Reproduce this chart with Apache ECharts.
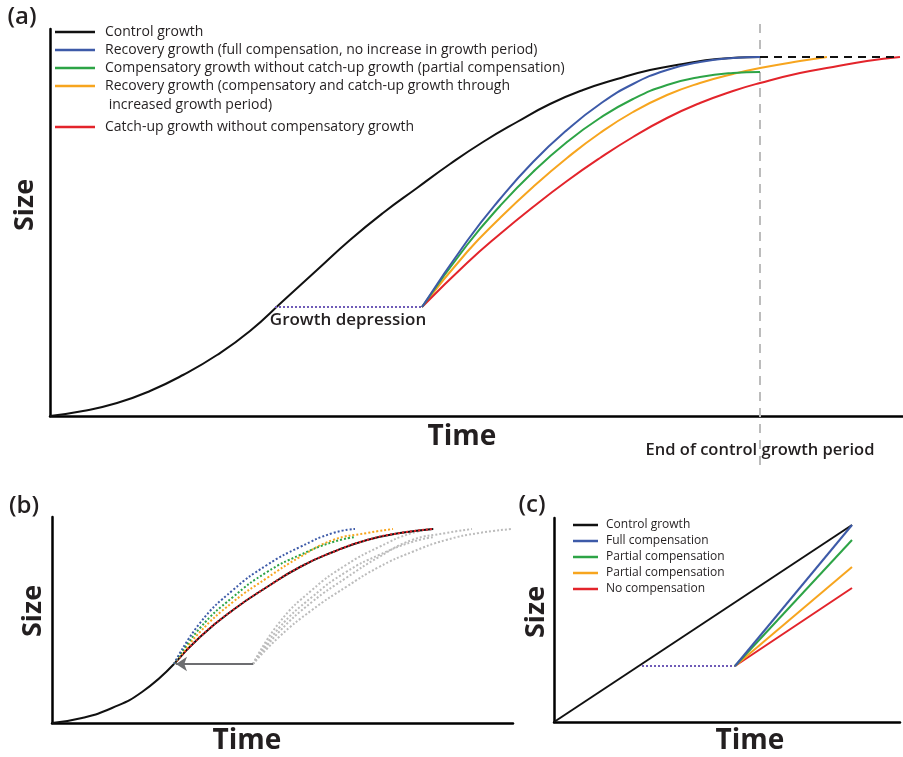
<!DOCTYPE html>
<html>
<head>
<meta charset="utf-8">
<script src="https://cdn.jsdelivr.net/npm/echarts@6/dist/echarts.min.js"></script>
<style>
html,body{margin:0;padding:0;background:#fff;}
#chart{width:903px;height:757px;}
</style>
</head>
<body>
<div id="chart"></div>
<script>
// ---------- Panel (a): size vs time (arbitrary units) ----------
const aNames = [
  'Control growth',
  'Recovery growth (full compensation, no increase in growth period)',
  'Compensatory growth without catch-up growth (partial compensation)',
  'Recovery growth (compensatory and catch-up growth through increased growth period)',
  'Catch-up growth without compensatory growth'
];
const aOrangeLine1 = 'Recovery growth (compensatory and catch-up growth through';
const aOrangeLine2 = ' increased growth period)';
const aControl = [[0,0],[33,5],[67,13],[100,25],[133,41],[167,61],[200,85],[233,115],[267,146],[300,176],[333,203],[367,228],[400,252],[433,274],[467,294],[500,312],[533,326],[567,337],[600,346],[633,352],[667,357],[710,359]];
const aBlue   = [[372,109],[417,175],[450,217],[483,254],[517,286],[550,312],[583,332],[617,346],[650,354],[683,358],[710,359]];
const aGreen  = [[372,109],[417,171],[450,210],[483,244],[517,274],[550,298],[583,317],[617,331],[650,339],[683,343],[710,344]];
const aOrange = [[372,109],[417,164],[450,198],[483,229],[517,258],[550,283],[583,304],[617,321],[650,333],[683,342],[710,348],[750,355],[777,359]];
const aRed    = [[372,109],[417,153],[450,182],[483,209],[517,235],[550,258],[583,279],[617,298],[650,313],[683,325],[710,333],[750,343],[783,349],[817,355],[850,359]];
const aDepression = [[225,109],[372,109]];
const aPlateau = [[710,359],[850,359]];
const aEndOfPeriod = [[710,-49],[710,396]];

// ---------- Panel (b) ----------
const bControl  = [[0,0],[30,5],[60,15],[90,31],[122,59]];
const bRedBlack = [[122,59],[148,86],[181,113],[215,136],[248,156],[281,171],[315,183],[348,190],[381,194]];
const bBlue     = [[122,59],[148,100],[181,133],[215,158],[248,176],[281,190],[303,194]];
const bGreen    = [[122,59],[148,95],[181,126],[215,151],[248,168],[281,181],[303,186]];
const bOrange   = [[122,59],[148,91],[181,121],[215,145],[248,166],[281,183],[315,190],[341,194]];
const bGrayBlue   = [[201,59],[227,100],[260,133],[294,158],[327,176],[360,190],[382,194]];
const bGrayGreen  = [[201,59],[227,95],[260,126],[294,151],[327,168],[360,181],[382,186]];
const bGrayOrange = [[201,59],[227,91],[260,121],[294,145],[327,166],[360,183],[394,190],[420,194]];
const bGrayRed    = [[201,59],[227,86],[260,113],[294,136],[327,156],[360,171],[394,183],[427,190],[460,194]];
const bArrow = [[201,59],[124,59]];

// ---------- Panel (c) ----------
const cNames = ['Control growth','Full compensation','Partial compensation','Partial compensation ','No compensation'];
const cControl = [[0,0],[298,197]];
const cDepression = [[88,56],[181,56]];
const cBlue   = [[181,56],[298,197]];
const cGreen  = [[181,56],[298,182]];
const cOrange = [[181,56],[298,155]];
const cRed    = [[181,56],[298,134]];

const COL = {black:'#111111', blue:'#3d5aa8', green:'#2da446', orange:'#f7a51e', red:'#e3242b', purple:'#6f5bb7', gray:'#bcbcbc', arrow:'#6d6e71', text:'#231f20'};
const FONT = '"Open Sans", sans-serif';

function ax(gi, max) {
  return {type:'value', gridIndex:gi, min:0, max:max, axisLine:{show:true, onZero:false, lineStyle:{color:'#000', width:2.5}},
    axisTick:{show:false}, axisLabel:{show:false}, splitLine:{show:false}};
}
function line(name, data, gi, color, opts) {
  opts = opts || {};
  return Object.assign({type:'line', name:name, data:data, xAxisIndex:gi, yAxisIndex:gi, showSymbol:false, symbol:'none',
    smooth: opts.smooth === undefined ? 0.5 : opts.smooth,
    lineStyle:{color:color, width: opts.width || 2, type: opts.type || 'solid'}, itemStyle:{color:color},
    silent:true, z: opts.z || 2}, opts.extra || {});
}
function txt(text, x, y, size, weight, rot) {
  return {type:'text', x:x, y:y, rotation: rot || 0, silent:true,
    style:{text:text, font: (weight||'normal') + ' ' + size + 'px ' + FONT, fill:COL.text,
      textAlign:'center', textVerticalAlign:'middle', align:'center', verticalAlign:'middle'}};
}

const chart = echarts.init(document.getElementById('chart'), null, {renderer:'canvas'});
chart.setOption({
  animation:false,
  backgroundColor:'#fff',
  grid:[
    {left:50, top:29, width:853, height:387},
    {left:52, top:517, width:461, height:206},
    {left:554, top:518, width:346, height:204}
  ],
  xAxis:[ax(0,853), ax(1,461), ax(2,346)],
  yAxis:[ax(0,387), ax(1,206), ax(2,204)],
  legend:[
    {data:aNames.slice(0,4), orient:'vertical', left:55, top:24, padding:0, itemGap:2, itemWidth:40, itemHeight:2.5, icon:'rect', selectedMode:false,
     formatter: n => n === aNames[3] ? aOrangeLine1 : n,
     textStyle:{fontFamily:FONT, fontSize:14, color:COL.text, lineHeight:16, padding:[0,0,0,5]}},
    {data:[aNames[4]], orient:'vertical', left:55, top:119, padding:0, itemWidth:40, itemHeight:2.5, icon:'rect', selectedMode:false,
     textStyle:{fontFamily:FONT, fontSize:14, color:COL.text, lineHeight:16, padding:[0,0,0,5]}},
    {data:cNames, orient:'vertical', left:573, top:518, padding:0, itemGap:2, itemWidth:25, itemHeight:2.5, icon:'rect', selectedMode:false,
     textStyle:{fontFamily:FONT, fontSize:12, color:COL.text, lineHeight:14, padding:[0,0,0,3]}}
  ],
  graphic:[
    txt('(a)', 22, 17, 24, '600'),
    txt('Size', 25, 205, 27, 'bold', Math.PI/2),
    txt('Time', 462, 437, 28, 'bold'),
    txt('Growth depression', 348, 320, 17, '600'),
    txt('End of control growth period', 760, 450, 16.5, '600'),
    {type:'text', x:105, y:105, silent:true, style:{text:aOrangeLine2, font:'normal 14px ' + FONT, fill:COL.text, textAlign:'left', textVerticalAlign:'middle', align:'left', verticalAlign:'middle'}},
    txt('(b)', 24, 506, 24, '600'),
    txt('Size', 33, 611, 27, 'bold', Math.PI/2),
    txt('Time', 247, 741, 28, 'bold'),
    txt('(c)', 532, 505, 24, '600'),
    txt('Size', 536, 612, 27, 'bold', Math.PI/2),
    txt('Time', 750, 741, 28, 'bold')
  ],
  series:[
    // panel (a)
    line('endPeriod', aEndOfPeriod, 0, COL.gray, {smooth:false, type:[9,7], width:2, z:1, extra:{clip:false}}),
    line(aNames[0], aControl, 0, COL.black),
    line(aNames[3], aOrange, 0, COL.orange),
    line(aNames[4], aRed, 0, COL.red),
    line(aNames[2], aGreen, 0, COL.green),
    line(aNames[1], aBlue, 0, COL.blue),
    line('aDepression', aDepression, 0, COL.purple, {smooth:false, type:[2,2], width:2}),
    line('aPlateau', aPlateau, 0, COL.black, {smooth:false, type:[8,6], width:2}),
    // panel (b)
    line('bGrayRed', bGrayRed, 1, COL.gray, {type:[2,2]}),
    line('bGrayOrange', bGrayOrange, 1, COL.gray, {type:[2,2]}),
    line('bGrayGreen', bGrayGreen, 1, COL.gray, {type:[2,2]}),
    line('bGrayBlue', bGrayBlue, 1, COL.gray, {type:[2,2]}),
    line('bControl', bControl, 1, COL.black),
    line('bRedBlackSolid', bRedBlack, 1, COL.black),
    line('bRedDots', bRedBlack, 1, COL.red, {type:[2,2], z:3}),
    line('bOrange', bOrange, 1, COL.orange, {type:[2,2], z:3}),
    line('bGreen', bGreen, 1, COL.green, {type:[2,2], z:3}),
    line('bBlue', bBlue, 1, COL.blue, {type:[2,2], z:3}),
    {type:'lines', coordinateSystem:'cartesian2d', xAxisIndex:1, yAxisIndex:1, silent:true, z:4,
     symbol:['none','arrow'], symbolSize:11,
     lineStyle:{color:COL.arrow, width:2, opacity:1, curveness:0},
     data:[{coords:bArrow}]},
    // panel (c)
    line(cNames[0], cControl, 2, COL.black, {smooth:false}),
    line('cDepression', cDepression, 2, COL.purple, {smooth:false, type:[2,2], width:2}),
    line(cNames[4], cRed, 2, COL.red, {smooth:false}),
    line(cNames[3], cOrange, 2, COL.orange, {smooth:false}),
    line(cNames[2], cGreen, 2, COL.green, {smooth:false}),
    line(cNames[1], cBlue, 2, COL.blue, {smooth:false})
  ]
});
</script>
</body>
</html>
